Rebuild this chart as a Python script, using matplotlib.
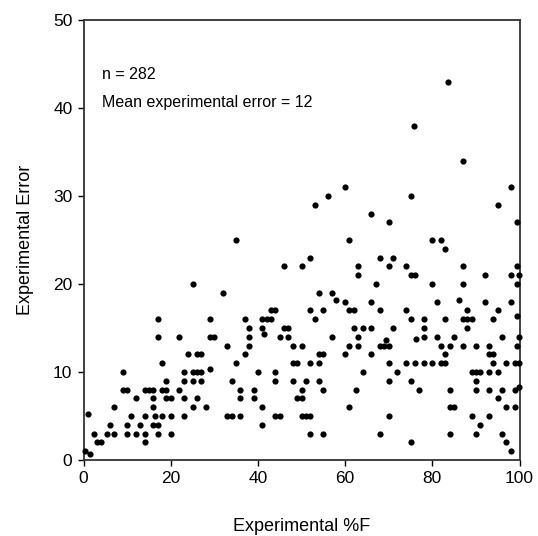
import matplotlib
matplotlib.use("Agg")
import matplotlib.pyplot as plt

plt.rcParams['font.family'] = ['Liberation Sans', 'DejaVu Sans']

# Experimental %F (x) and experimental error (y)
pct_f = [
    17, 29, 17, 22, 29, 30, 24, 26, 27, 18, 9, 23, 25, 26, 27, 29,
    19, 23, 25, 27, 9, 10, 14, 15, 16, 18, 19, 22,
    12, 16, 19, 20, 23, 26, 7, 16, 25, 28,
    1, 11, 14, 16.5, 18, 20, 23, 6, 10, 13, 16, 17,
    2.5, 5.5, 7, 10, 12, 14, 17, 20, 3, 4, 14, 0.4, 1.4,
    43, 44, 52, 55, 61, 62, 37, 41, 42, 43, 53, 38, 41, 46, 47, 62,
    38, 41.5, 45, 47, 57, 63, 33, 38, 48, 50, 61, 63,
    37, 54, 55, 60, 35, 48, 49, 52, 54, 40, 44,
    34, 44, 48, 51, 54, 36, 39, 50, 55, 62.4, 36, 39, 49, 50,
    41, 61, 33, 34, 36, 44, 45, 50, 51, 52, 41, 52, 55,
    68, 74, 88, 95, 75, 78, 83, 87, 88, 89, 94, 99.5,
    64, 66, 71, 78, 88, 76.2, 78, 81, 85, 96,
    68, 69, 70, 69.3, 82, 84, 87, 90, 93, 99.5,
    66, 83, 93, 94, 70, 74, 76, 78, 80, 82, 83, 94, 97, 99,
    64, 72, 89, 90, 91, 93, 95, 70, 75, 90,
    77, 84, 90, 93, 96, 99, 95, 84, 85, 97, 99,
    70, 89, 93, 91, 68, 84, 90, 96, 75, 97, 98,
    25, 32,
    60, 56, 53, 35, 61, 52, 46, 50, 63, 63, 54, 57, 58, 60,
    87, 98, 75, 95, 66, 70, 99.5, 80, 82, 83, 68, 71,
    70, 74, 87, 99.5, 75, 76, 92, 98, 67, 80, 87, 99.5,
    66, 81, 86.2, 92, 98,
    83.6, 75.7,
    99.8, 99.8, 99.8, 99.8,
]
exp_error = [
    16, 16, 14, 14, 14, 14, 12, 12, 12, 11, 10, 10, 10, 10, 10, 10.3,
    9, 9, 9, 9, 8, 8, 8, 8, 8, 8, 8, 8,
    7, 7, 7, 7, 7, 7, 6, 6, 6, 6,
    5.2, 5, 5, 5, 5, 5, 5, 4, 4, 4, 4, 4,
    3, 3, 3, 3, 3, 3, 3, 3, 2, 2, 2, 1, 0.7,
    17, 17, 17, 17, 17, 17, 16, 16, 16, 16, 16, 15, 15, 15, 15, 15,
    14, 14.3, 14, 14, 14, 14, 13, 13, 13, 13, 13, 13,
    12, 12, 12, 12, 11, 11, 11, 11, 11, 10, 10,
    9, 9, 9, 9, 9, 8, 8, 8, 8, 8, 7, 7, 7, 7,
    6, 6, 5, 5, 5, 5, 5, 5, 5, 5, 4, 3, 3,
    17, 17, 17, 17, 16, 16, 16, 16, 16, 16, 16, 16.4,
    15, 15, 15, 15, 15, 13.8, 14, 14, 14, 14,
    13, 13, 13, 13.6, 13, 13, 13, 13, 13, 13,
    12, 12, 12, 12, 11, 11, 11, 11, 11, 11, 11, 11, 11, 11,
    10, 10, 10, 10, 10, 10, 10, 9, 9, 9,
    8, 8, 8, 8, 8, 8, 7, 6, 6, 6, 6,
    5, 5, 5, 4, 3, 3, 3, 3, 2, 2, 1,
    20, 19,
    31, 30, 29, 25, 25, 23, 22, 22, 22, 21, 19, 19, 18.2, 18,
    34, 31, 30, 29, 28, 27, 27, 25, 25, 24, 23, 23,
    22, 22, 22, 22, 21, 21, 21, 21, 20, 20, 20, 20,
    18, 18, 18.2, 18, 18,
    43, 38,
    21, 14, 11, 8.3,
]

x_ticks = [0, 20, 40, 60, 80, 100]
y_ticks = [0, 10, 20, 30, 40, 50]

fig = plt.figure(figsize=(5.38, 5.36), dpi=100)
ax = fig.add_axes([83.5 / 538, 76 / 536, 436 / 538, 440 / 536])

ax.scatter(pct_f, exp_error, s=20, color='black', linewidths=0, zorder=3, clip_on=False)

ax.set_xlim(0, 100)
ax.set_ylim(0, 50)
ax.set_xticks(x_ticks)
ax.set_yticks(y_ticks)
ax.tick_params(direction='out', length=4, width=1, labelsize=12.5, colors='black', pad=4)
for sp in ax.spines.values():
    sp.set_linewidth(1.3)
    sp.set_color('#333333')

ax.set_xlabel('Experimental %F', fontsize=13, labelpad=23)
ax.set_ylabel('Experimental Error', fontsize=13, labelpad=14)

ax.text(4.3, 43.8, 'n = 282', fontsize=11.5, va='center', ha='left')
ax.text(4.3, 40.6, 'Mean experimental error = 12', fontsize=11.5, va='center', ha='left')

fig.savefig('out.png', dpi=100)
